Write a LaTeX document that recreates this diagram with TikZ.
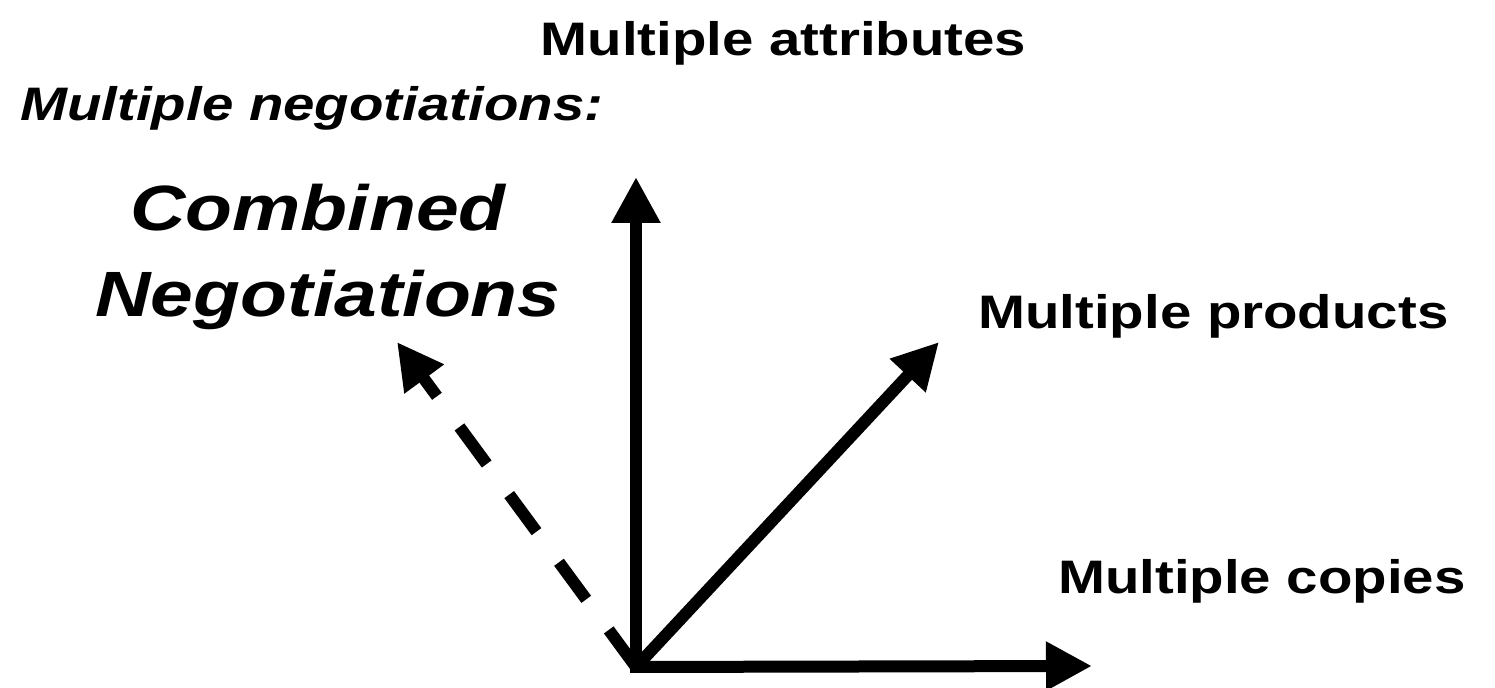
\documentclass[tikz,border=0pt]{standalone}
\usepackage{fontspec}
\setmainfont{Liberation Sans}
\usetikzlibrary{arrows.meta}
\tikzset{
  axis/.style={line width=6pt, -{Triangle[length=23pt,width=23pt]}},
  dashaxis/.style={axis, dash pattern=on 23pt off 19pt},
  lbl/.style={inner sep=0pt, anchor=base, font=\fontsize{23.5pt}{28pt}\selectfont\bfseries},
  biglbl/.style={inner sep=0pt, anchor=base, font=\fontsize{32pt}{40pt}\selectfont\bfseries\itshape}
}
\newcommand{\wide}[1]{\scalebox{1.2}[1]{#1}}
\begin{document}
\begin{tikzpicture}[x=0.5pt,y=-0.5pt]
\useasboundingbox (0,0) rectangle (1495,688);
\coordinate (O) at (636,667);
\coordinate (Ov) at (636,673);
\coordinate (Oh) at (630,667);
\coordinate (tUp) at (636,177);
\coordinate (tRight) at (1092,666);
\coordinate (tDiag) at (939,342);
\coordinate (tDash) at (397,342);
\draw[axis] (Ov) -- (tUp);
\draw[axis] (Oh) -- (tRight);
\draw[axis] (O) -- (tDiag);
\draw[dashaxis] (O) -- (tDash);
\node[lbl] (attr) at (783.5,56) {\wide{Multiple attributes}};
\node[lbl, anchor=base west] (neg) at (20,121) {\wide{\itshape Multiple negotiations:}};
\node[biglbl] (comb) at (318,231) {\wide{Combined}};
\node[biglbl] (negs) at (328,317) {\wide{Negotiations}};
\node[lbl, anchor=base west] (prod) at (978,329) {\wide{Multiple products}};
\node[lbl, anchor=base east] (copies) at (1466,594) {\wide{Multiple copies}};
\end{tikzpicture}
\end{document}
